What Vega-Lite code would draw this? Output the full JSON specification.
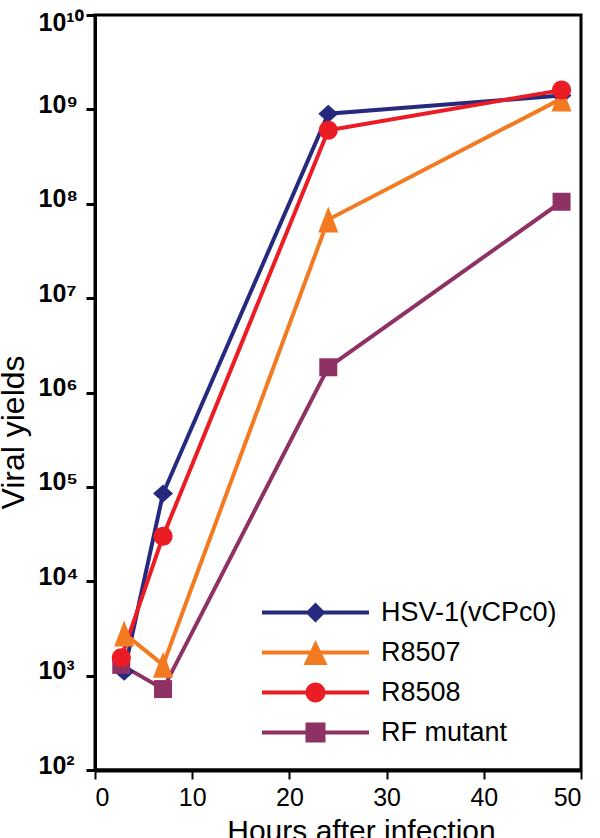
{
  "$schema": "https://vega.github.io/schema/vega-lite/v6.json",
  "width": 486,
  "height": 755,
  "autosize": {"type": "none"},
  "padding": {"left": 95, "top": 15, "right": 19, "bottom": 68},
  "background": "white",
  "config": {
    "font": "Liberation Sans",
    "view": {"stroke": "black", "strokeWidth": 3},
    "axis": {"grid": false, "domainColor": "black", "tickColor": "black", "labelColor": "black", "titleColor": "black"}
  },
  "data": {
    "values": [
      {"series": "HSV-1(vCPc0)", "hours": 3, "yield": 1100},
      {"series": "HSV-1(vCPc0)", "hours": 7, "yield": 85000},
      {"series": "HSV-1(vCPc0)", "hours": 24, "yield": 900000000},
      {"series": "HSV-1(vCPc0)", "hours": 48, "yield": 1400000000},
      {"series": "RF mutant", "hours": 2.7, "yield": 1300},
      {"series": "RF mutant", "hours": 7, "yield": 720},
      {"series": "RF mutant", "hours": 24, "yield": 1850000},
      {"series": "RF mutant", "hours": 48, "yield": 105000000},
      {"series": "R8507", "hours": 3, "yield": 2800},
      {"series": "R8507", "hours": 7, "yield": 1300},
      {"series": "R8507", "hours": 24, "yield": 68000000},
      {"series": "R8507", "hours": 48, "yield": 1300000000},
      {"series": "R8508", "hours": 2.7, "yield": 1550},
      {"series": "R8508", "hours": 7, "yield": 30000},
      {"series": "R8508", "hours": 24, "yield": 600000000},
      {"series": "R8508", "hours": 48, "yield": 1600000000}
    ]
  },
  "encoding": {
    "x": {
      "field": "hours", "type": "quantitative",
      "scale": {"domain": [0, 50], "nice": false, "zero": false},
      "axis": {
        "values": [0, 10, 20, 30, 40, 50],
        "title": "Hours after infection",
        "titleFontSize": 30, "titleFontWeight": "normal",
        "titleX": 266, "titleY": 70, "titleBaseline": "alphabetic", "titleAlign": "center",
        "labelFontSize": 25, "labelFontWeight": "normal",
        "labelPadding": 6, "tickSize": 9, "tickWidth": 2,
        "domainWidth": 4
      }
    },
    "y": {
      "field": "yield", "type": "quantitative",
      "scale": {"type": "log", "domain": [100, 10000000000], "nice": false},
      "axis": {
        "values": [100, 1000, 10000, 100000, 1000000, 10000000, 100000000, 1000000000, 10000000000],
        "labelExpr": "'10' + ['⁰','¹','²','³','⁴','⁵','⁶','⁷','⁸','⁹','¹⁰'][round(log(datum.value)/LN10)]",
        "title": "Viral yields",
        "titleFontSize": 32, "titleFontWeight": "normal",
        "titleX": -72, "titleY": 417, "titleAngle": -90, "titleBaseline": "alphabetic", "titleAlign": "center",
        "labelFontSize": 25, "labelFontWeight": "bold",
        "labelAlign": "left", "labelBaseline": "alphabetic", "labelPadding": 48,
        "labelOffset": {"condition": {"test": "datum.value > 5000000000", "value": 15}, "value": 3},
        "labelFlush": false,
        "tickSize": 9, "tickWidth": 3, "domainWidth": 3
      }
    }
  },
  "layer": [
    {
      "mark": {"type": "line", "strokeWidth": 4},
      "encoding": {
        "color": {
          "field": "series", "type": "nominal",
          "scale": {"domain": ["HSV-1(vCPc0)", "R8507", "R8508", "RF mutant"], "range": ["#252a7e", "#f37a21", "#ec1c24", "#8e3164"]},
          "legend": null
        },
        "detail": {"field": "series"}
      }
    },
    {
      "mark": {"type": "point", "filled": true, "opacity": 1, "size": 400},
      "encoding": {
        "color": {
          "field": "series", "type": "nominal",
          "scale": {"domain": ["HSV-1(vCPc0)", "R8507", "R8508", "RF mutant"], "range": ["#252a7e", "#f37a21", "#ec1c24", "#8e3164"]},
          "legend": null
        },
        "shape": {
          "field": "series", "type": "nominal",
          "scale": {"domain": ["HSV-1(vCPc0)", "R8507", "R8508", "RF mutant"], "range": [
            "M0,-0.9L1,0L0,0.9L-1,0Z",
            "M0,-1.3L1,1.3L-1,1.3Z",
            "M-0.95,0A0.95,0.95,0,1,1,0.95,0A0.95,0.95,0,1,1,-0.95,0Z",
            "M-0.9,-0.9H0.9V0.9H-0.9Z"
          ]},
          "legend": null
        }
      }
    },
    {
      "transform": [{"filter": "datum.hours < 0"}],
      "mark": {"type": "point", "filled": true, "opacity": 1, "size": 400},
      "encoding": {
        "color": {
          "field": "series", "type": "nominal",
          "scale": {"domain": ["HSV-1(vCPc0)", "R8507", "R8508", "RF mutant"], "range": ["#252a7e", "#f37a21", "#ec1c24", "#8e3164"]},
          "legend": {"orient": "none", "legendX": 207, "legendY": 584, "title": null, "padding": 0,
            "labelFontSize": 27, "labelColor": "black", "labelOffset": 52, "labelLimit": 400, "symbolSize": 400, "rowPadding": 12}
        },
        "shape": {
          "field": "series", "type": "nominal",
          "scale": {"domain": ["HSV-1(vCPc0)", "R8507", "R8508", "RF mutant"], "range": [
            "M0,-1L1,0L0,1L-1,0ZM-5.35,-0.2H5.35V0.2H-5.35Z",
            "M0,-1.25L1.2,1.25L-1.2,1.25ZM-5.35,-0.2H5.35V0.2H-5.35Z",
            "M-1,0A1,1,0,1,1,1,0A1,1,0,1,1,-1,0ZM-5.35,-0.2H5.35V0.2H-5.35Z",
            "M-1,-1H1V1H-1ZM-5.35,-0.2H5.35V0.2H-5.35Z"
          ]},
          "legend": {"orient": "none", "legendX": 207, "legendY": 584, "title": null, "padding": 0,
            "labelFontSize": 27, "labelColor": "black", "labelOffset": 52, "labelLimit": 400, "symbolSize": 400, "rowPadding": 12}
        }
      }
    }
  ],
  "resolve": {"scale": {"color": "independent", "shape": "independent"}}
}
